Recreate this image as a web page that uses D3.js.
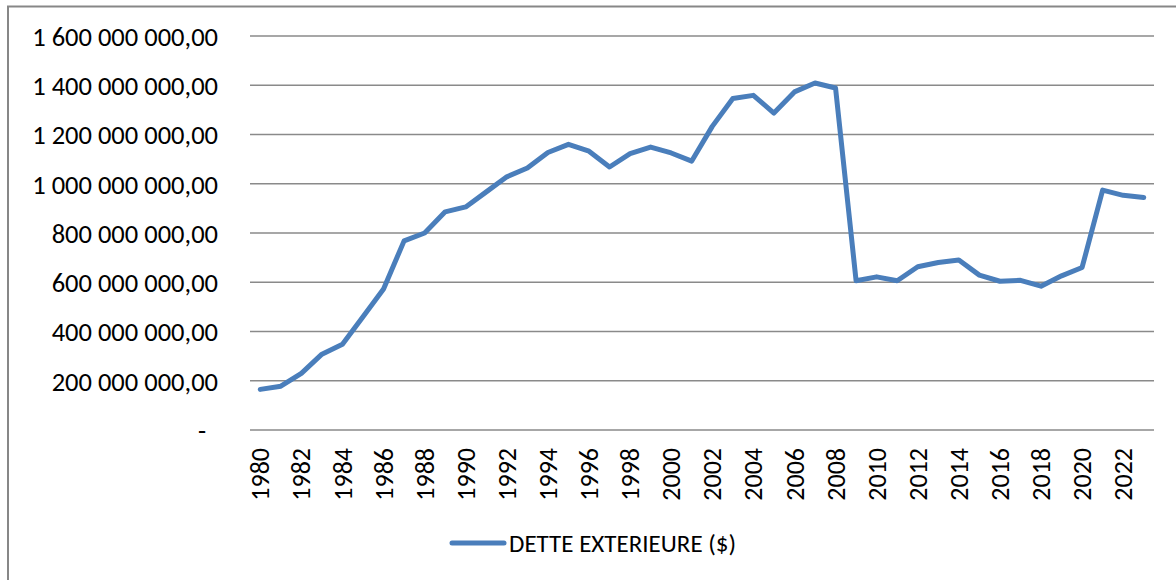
<!DOCTYPE html>
<html>
<head>
<meta charset="utf-8">
<script src="https://cdn.jsdelivr.net/npm/d3@7"></script>
<style>
  body { margin: 0; background: #fff; }
  text { font-family: Calibri, Carlito, "Noto Sans", sans-serif; fill: #000; }
</style>
</head>
<body>
<div id="chart"></div>
<script>
// data
const years = d3.range(1980, 2024);
const debt = [
  165e6, 178e6, 230e6, 308e6, 348e6, 460e6, 573e6, 768e6, 800e6, 886e6,
  906e6, 967e6, 1028e6, 1064e6, 1127e6, 1160e6, 1132e6, 1068e6, 1122e6, 1149e6,
  1125e6, 1092e6, 1233e6, 1346e6, 1359e6, 1287e6, 1373e6, 1409e6, 1389e6, 606e6,
  622e6, 606e6, 663e6, 680e6, 690e6, 629e6, 604e6, 608e6, 584e6, 626e6,
  660e6, 974e6, 953e6, 944e6
];
const yTicks = [0, 200e6, 400e6, 600e6, 800e6, 1000e6, 1200e6, 1400e6, 1600e6];
const xTickYears = years.filter(y => y % 2 === 0);
const seriesName = "DETTE EXTERIEURE ($)";

const W = 1176, H = 580;
const plot = { left: 250, right: 1154, top: 36, bottom: 430 };

const svg = d3.select("#chart").append("svg")
  .attr("width", W).attr("height", H);

// chart frame (cropped on the right and bottom in the original)
svg.append("rect")
  .attr("x", 8).attr("y", 6.5)
  .attr("width", W + 20).attr("height", H + 20)
  .attr("fill", "none").attr("stroke", "#878787").attr("stroke-width", 2);

const x = d3.scaleBand().domain(years).range([plot.left, plot.right]);
const y = d3.scaleLinear().domain([0, 1600e6]).range([plot.bottom, plot.top]);

// french style number: 1 600 000 000,00
const fr = v => v === 0 ? "-" : d3.format(",.2f")(v).replace(/,/g, " ").replace(".", ",");

// gridlines
svg.append("g")
  .selectAll("line")
  .data(yTicks)
  .join("line")
  .attr("x1", plot.left).attr("x2", plot.right)
  .attr("y1", d => y(d)).attr("y2", d => y(d))
  .attr("stroke", "#8a8a8a").attr("stroke-width", 1.5);

// y axis labels
const yAxis = svg.append("g")
  .attr("transform", `translate(${plot.left - 32},0)`)
  .call(d3.axisLeft(y).tickValues(yTicks).tickSize(0).tickPadding(0).tickFormat(fr));
yAxis.select(".domain").remove();
yAxis.selectAll("text")
  .style("font-size", "26.5px")
  .attr("dy", "0.35em")
  .attr("x", d => d === 0 ? -12 : 0);

// x axis labels (rotated)
const xAxis = svg.append("g")
  .attr("transform", `translate(0,${plot.bottom})`)
  .call(d3.axisBottom(x).tickValues(xTickYears).tickSize(0).tickPadding(0));
xAxis.select(".domain").remove();
xAxis.selectAll("text")
  .style("font-size", "26px")
  .attr("text-anchor", "end")
  .attr("transform", "rotate(-90)")
  .attr("x", -18)
  .attr("y", 0)
  .attr("dy", "0.35em");

// the line
const line = d3.line()
  .x((d, i) => x(years[i]) + x.bandwidth() / 2)
  .y(d => y(d));

svg.append("path")
  .datum(debt)
  .attr("d", line)
  .attr("fill", "none")
  .attr("stroke", "#4a7ebb")
  .attr("stroke-width", 5)
  .attr("stroke-linejoin", "round")
  .attr("stroke-linecap", "round");

// legend
const lg = svg.append("g").attr("transform", "translate(452,543)");
lg.append("line")
  .attr("x1", 0).attr("x2", 52)
  .attr("stroke", "#4a7ebb").attr("stroke-width", 5)
  .attr("stroke-linecap", "round");
lg.append("text")
  .attr("x", 57).attr("dy", "0.35em")
  .style("font-size", "25px")
  .text(seriesName);
</script>
</body>
</html>
